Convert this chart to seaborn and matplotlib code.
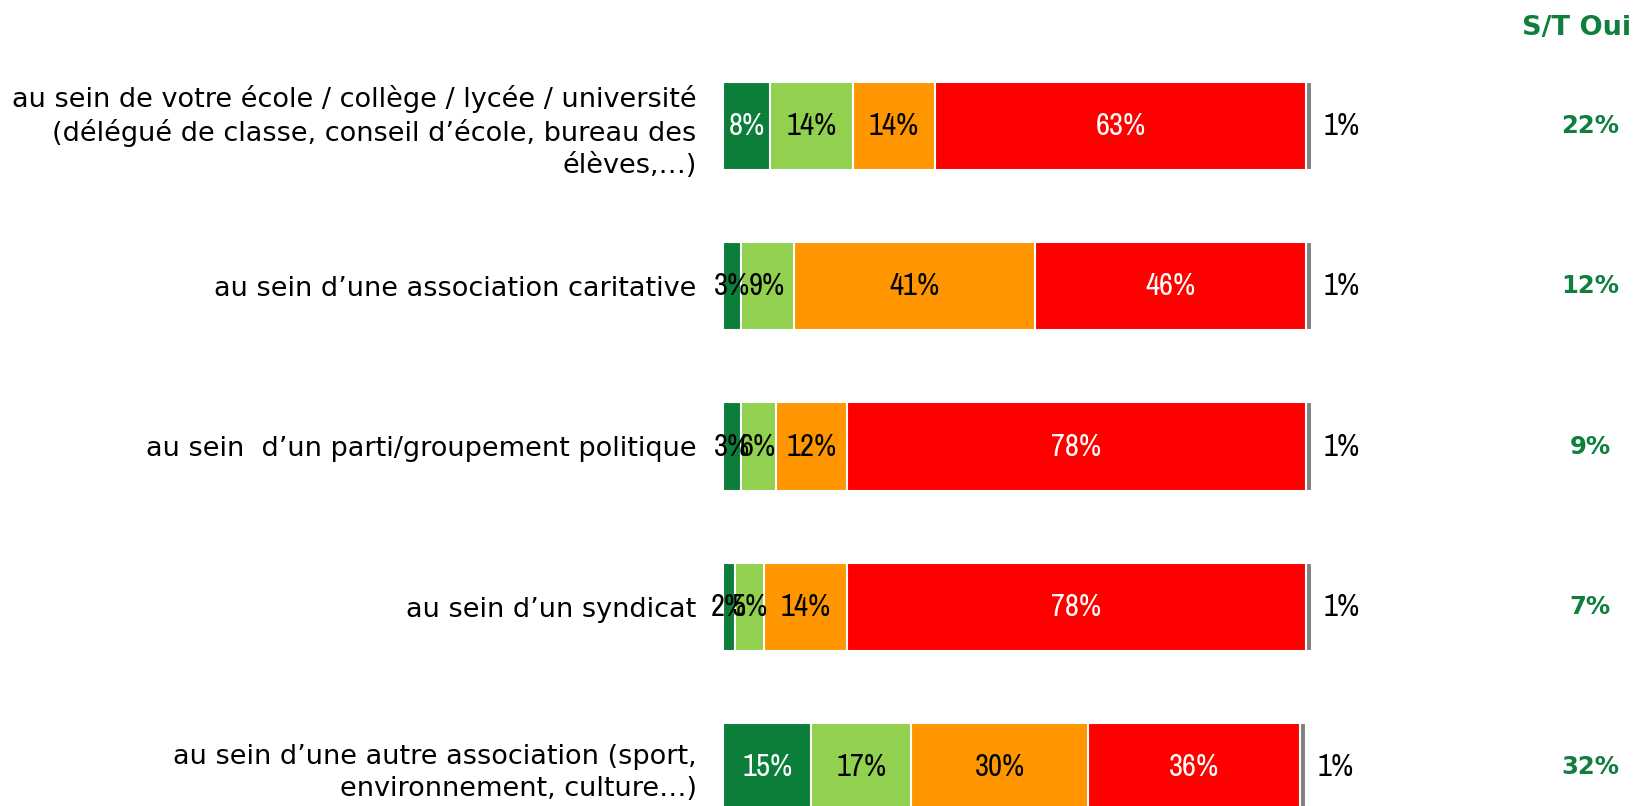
import numpy as np
import pandas as pd
import matplotlib
matplotlib.use("Agg")
import matplotlib.pyplot as plt
import matplotlib.transforms as mtransforms
from matplotlib import font_manager
import seaborn as sns

CATEGORIES = [
    "au sein de votre école / collège / lycée / université\n"
    "(délégué de classe, conseil d\u2019école, bureau des\nélèves,\u2026)",
    "au sein d\u2019une association caritative",
    "au sein  d\u2019un parti/groupement politique",
    "au sein d\u2019un syndicat",
    "au sein d\u2019une autre association (sport,\nenvironnement, culture\u2026)",
]
OUI_TOUT_A_FAIT = [8, 3, 3, 2, 15]
OUI_PLUTOT = [14, 9, 6, 5, 17]
NON_PLUTOT = [14, 41, 12, 14, 30]
NON_PAS_DU_TOUT = [63, 46, 78, 78, 36]
NSP = [1, 1, 1, 1, 1]
ST_OUI = [22, 12, 9, 7, 32]

SERIES = [OUI_TOUT_A_FAIT, OUI_PLUTOT, NON_PLUTOT, NON_PAS_DU_TOUT, NSP]
COLORS = ["#0b7f3a", "#92d050", "#ff9600", "#ff0000", "#808080"]
TEXT_COLORS = ["white", "black", "black", "white", "black"]
GREEN = "#0e7f3c"

sns.set_style("white")
plt.rcParams["font.family"] = ["DejaVu Sans"]


def upright_regular(f):
    low = f.fname.lower()
    bad = ("italic", "oblique", "bold", "light", "thin", "medium", "black", "semi")
    return not any(b in low for b in bad) and f.style == "normal"


# narrow face for the numbers inside the bars, if one is installed
narrow = None
for key in ("narrow", "condensed"):
    for f in font_manager.fontManager.ttflist:
        if key in f.fname.lower() and upright_regular(f):
            narrow = f.fname
            break
    if narrow:
        break
if narrow is not None:
    lab_prop = dict(fontproperties=font_manager.FontProperties(fname=narrow, size=22))
else:
    lab_prop = dict(fontsize=17)

W, H = 1635, 806
fig = plt.figure(figsize=(W / 100, H / 100), dpi=100)
ax = fig.add_axes([723 / W, 0, 589 / W, 1])

df = pd.DataFrame({"cat": CATEGORIES})
cum = np.cumsum(np.array(SERIES), axis=0)

# draw cumulative bars from the longest to the shortest to get a stacked look
for i in range(len(SERIES) - 1, -1, -1):
    df["val"] = cum[i]
    sns.barplot(data=df, x="val", y="cat", order=CATEGORIES, orient="h",
                color=COLORS[i], saturation=1, width=0.55,
                edgecolor="white", linewidth=1.5, ax=ax)

# percentage labels
for r in range(len(CATEGORIES)):
    for i, s in enumerate(SERIES):
        v = s[r]
        left = cum[i][r] - v
        if i == len(SERIES) - 1:
            ax.text(cum[i][r] + 2, r, f"{v}%", ha="left", va="center",
                    color="black", **lab_prop)
            continue
        color = TEXT_COLORS[i] if v >= 5 else "black"
        ax.text(left + v / 2, r, f"{v}%", ha="center", va="center",
                color=color, **lab_prop)

# S/T Oui column
trans = mtransforms.blended_transform_factory(fig.transFigure, ax.transData)
for r, v in enumerate(ST_OUI):
    ax.text(1590 / W, r, f"{v}%", transform=trans, ha="center", va="center",
            fontsize=17.5, fontweight="bold", color=GREEN)
fig.text(1577 / W, 1 - 28 / H, "S/T Oui", ha="center", va="center",
         fontsize=19.5, fontweight="bold", color=GREEN)

ax.set_xlim(0, 100)
ax.set_ylim(4 + 39 / 160.25, -126 / 160.25)
ax.set_xlabel("")
ax.set_ylabel("")
ax.set_xticks([])
ax.tick_params(axis="y", length=0, pad=19, labelsize=19.5, labelcolor="black")
for t in ax.get_yticklabels():
    t.set_linespacing(1.3)
sns.despine(ax=ax, left=True, bottom=True)

fig.savefig("out.png", dpi=100)
